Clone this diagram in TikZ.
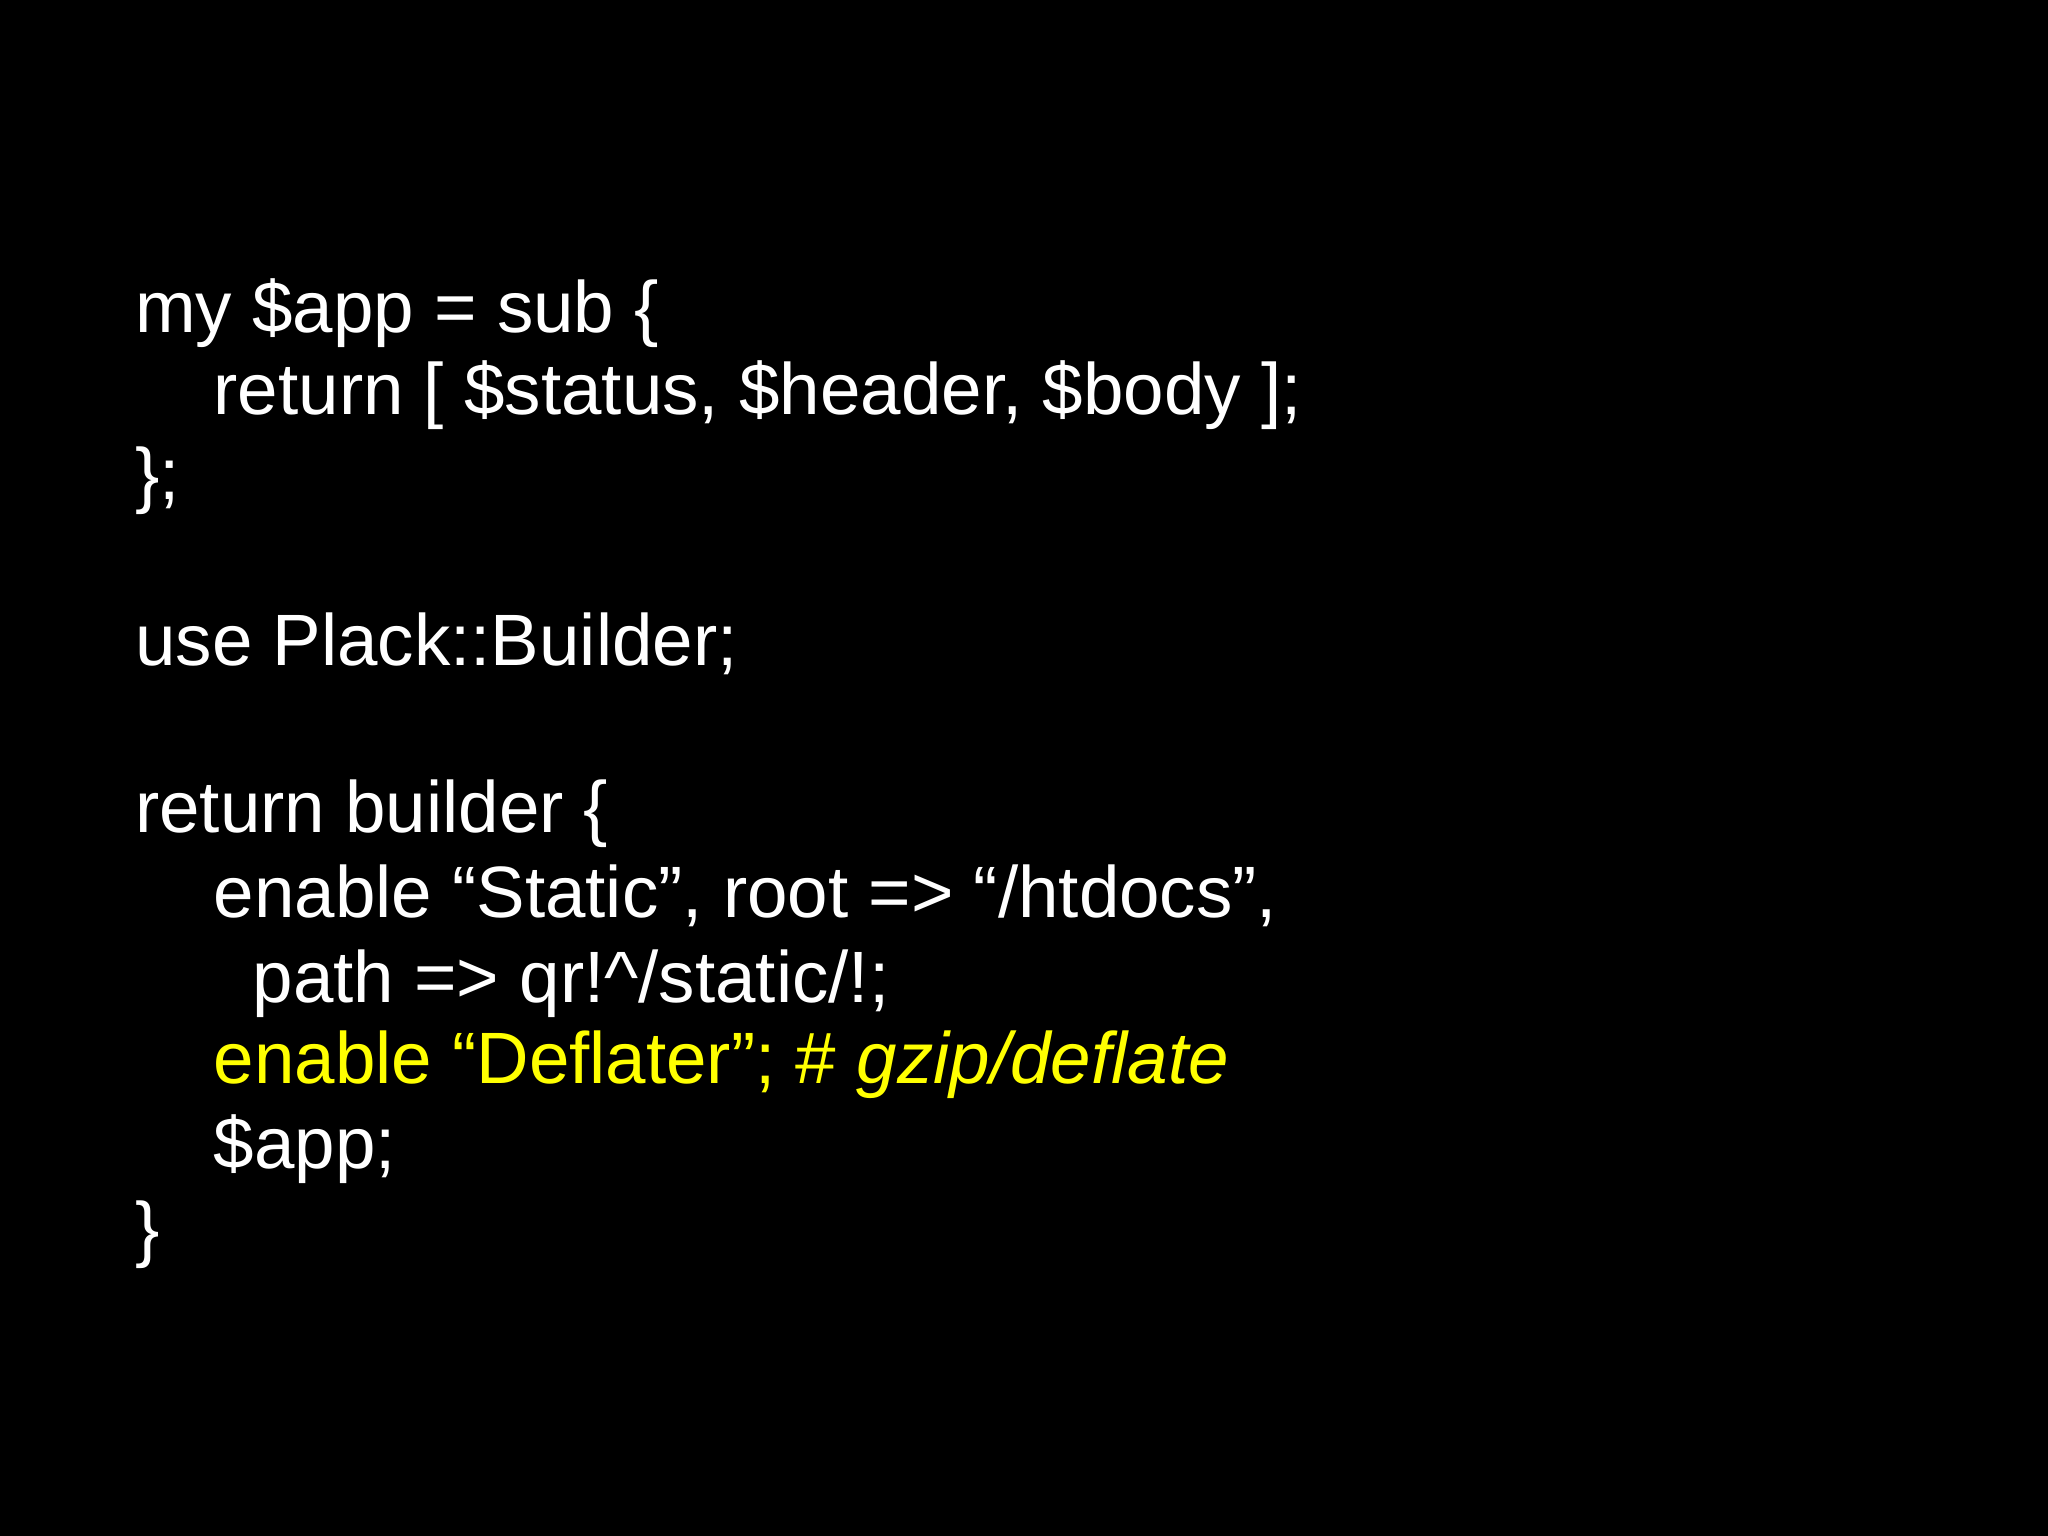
\documentclass[tikz,border=0pt]{standalone}
\usepackage{fontspec}
\setmainfont{Liberation Sans}
\definecolor{hl}{RGB}{255,255,0}
\begin{document}
\begin{tikzpicture}[code/.style={anchor=base west,inner sep=0pt,text=white,font=\fontsize{20.7pt}{24pt}\selectfont}]
\fill[black] (0,0) rectangle (20.48,15.36);
\useasboundingbox (0,0) rectangle (20.48,15.36);
\node[code] (l1) at (1.345,12.03) {my \$app = sub \{};
\node[code] (l2) at (2.13,11.21) {return [ \$status, \$header, \$body ];};
\node[code] (l3) at (1.345,10.36) {\};};
\node[code] (l4) at (1.345,8.70) {use Plack::Builder;};
\node[code] (l5) at (1.345,7.03) {return builder \{};
\node[code] (l6) at (2.13,6.18) {enable “Static”, root => “/htdocs”,};
\node[code] (l7) at (2.52,5.33) {path => qr!\^{}/static/!;};
\node[code,text=hl] (l8) at (2.13,4.52) {enable “Deflater”; \# \textit{gzip/deflate}};
\node[code] (l9) at (2.13,3.67) {\$app;};
\node[code] (l10) at (1.345,2.82) {\}};
\end{tikzpicture}
\end{document}
